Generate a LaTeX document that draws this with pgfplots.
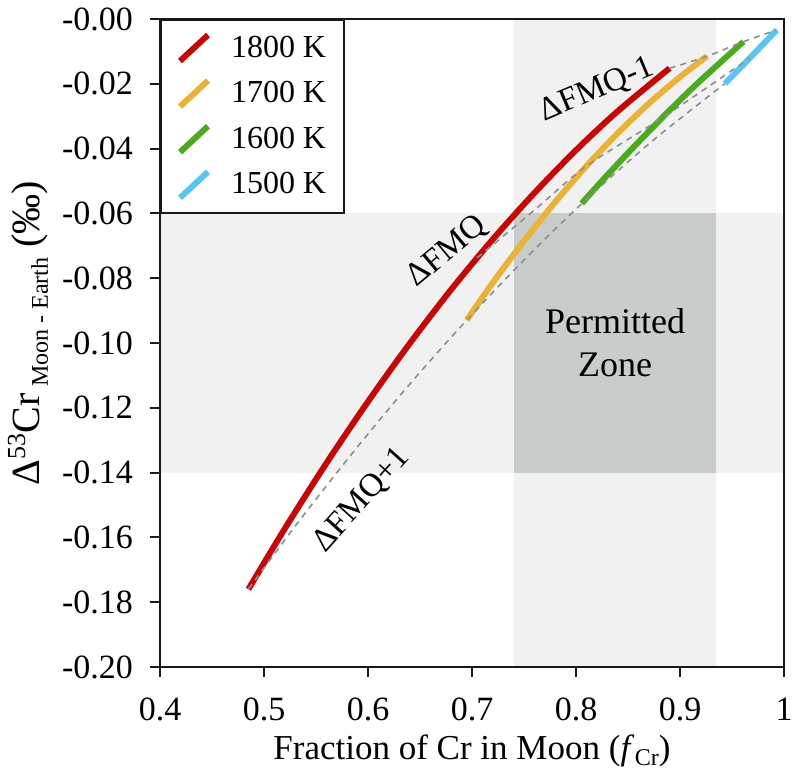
\documentclass[border=0pt]{standalone}
\usepackage{fontspec}
\setmainfont{Liberation Serif}
\usepackage{pgfplots}
\pgfplotsset{compat=1.18}
\definecolor{cred}{HTML}{C40808}
\definecolor{cyellow}{HTML}{EAB23A}
\definecolor{cgreen}{HTML}{4BAA1E}
\definecolor{cblue}{HTML}{5BC4F0}
\definecolor{cdash}{HTML}{8A8F8F}
\definecolor{bandlight}{HTML}{F0F1F0}
\definecolor{banddark}{HTML}{C8CDCC}
\begin{document}
\begin{tikzpicture}
\begin{axis}[
  scale only axis, width=312pt, height=324pt,
  xmin=0.4, xmax=1, ymin=-0.2, ymax=0,
  axis on top,
  xtick={0.4,0.5,0.6,0.7,0.8,0.9,1},
  xticklabels={0.4,0.5,0.6,0.7,0.8,0.9,1},
  ytick={-0.2,-0.18,-0.16,-0.14,-0.12,-0.1,-0.08,-0.06,-0.04,-0.02,0},
  yticklabels={-0.20,-0.18,-0.16,-0.14,-0.12,-0.10,-0.08,-0.06,-0.04,-0.02,-0.00},
  tick align=outside, tick pos=left, major tick length=5pt,
  axis line style={line width=1pt, black!90},
  tick style={line width=1pt, black!90},
  ticklabel style={font=\fontsize{17}{20}\selectfont},
  yticklabel style={xshift=-5pt},
  xticklabel style={yshift=-7pt},
  xlabel={Fraction of Cr in Moon (\textit{f}\kern0.3pt\raisebox{-0.35ex}{\fontsize{12}{14}\selectfont Cr})},
  ylabel={\fontsize{20}{22}\selectfont Δ\raisebox{0.8ex}{\fontsize{13}{15}\selectfont 53}Cr\,\raisebox{-0.45ex}{\fontsize{12}{14}\selectfont Moon - Earth} (‰)},
  label style={font=\fontsize{17.5}{20}\selectfont},
  xlabel style={at={(axis description cs:0.5,0)}, anchor=center, yshift=-42pt},
  ylabel style={at={(axis description cs:0,0.5)}, anchor=center, yshift=66pt, xshift=5pt},
  legend style={at={(0,1)}, anchor=north west, draw=black!90, line width=1pt, fill=white,
    font=\fontsize{16}{19}\selectfont, inner xsep=8pt, inner ysep=6pt, row sep=6.8pt,
    column sep=9pt, nodes={inner sep=1pt}},
  legend cell align=left,
  legend image code/.code={\draw[#1, line width=3pt] (0pt,-6.5pt) -- (14pt,6.5pt);},
]
\fill[bandlight] (axis cs:0.74,-0.2) rectangle (axis cs:0.935,0);
\fill[bandlight] (axis cs:0.4,-0.14) rectangle (axis cs:1,-0.06);
\fill[banddark] (axis cs:0.74,-0.14) rectangle (axis cs:0.935,-0.06);

\addplot[cred, line width=3pt, smooth] coordinates {
(0.485,-0.1760) (0.52,-0.1573) (0.56,-0.1371) (0.60,-0.1181) (0.64,-0.1002)
(0.68,-0.0835) (0.72,-0.0680) (0.76,-0.0537) (0.80,-0.0405) (0.84,-0.0285) (0.890,-0.0152)};
\addlegendentry{1800 K}
\addplot[cyellow, line width=3pt, smooth] coordinates {
(0.695,-0.0929) (0.72,-0.0814) (0.75,-0.0685) (0.78,-0.0565) (0.81,-0.0454)
(0.84,-0.0353) (0.87,-0.0261) (0.90,-0.0179) (0.926,-0.0115)};
\addlegendentry{1700 K}
\addplot[cgreen, line width=3pt, smooth] coordinates {
(0.8055,-0.0569) (0.83,-0.0482) (0.86,-0.0380) (0.89,-0.0282) (0.92,-0.0189) (0.961,-0.0070)};
\addlegendentry{1600 K}
\addplot[cblue, line width=3pt, smooth] coordinates {
(0.9433,-0.0199) (0.967,-0.0121) (0.993,-0.0034)};
\addlegendentry{1500 K}

% iso-fO2 dashed curves
\addplot[cdash, line width=0.8pt, dash pattern=on 3pt off 2.6pt, smooth, forget plot] coordinates {
(0.485,-0.1760) (0.53,-0.1565) (0.58,-0.1360) (0.63,-0.1165) (0.68,-0.0982) (0.73,-0.0810)
(0.78,-0.0648) (0.83,-0.0498) (0.88,-0.0359) (0.9433,-0.0199)};
\addplot[cdash, line width=0.8pt, dash pattern=on 3pt off 2.6pt, smooth, forget plot] coordinates {
(0.705,-0.0737) (0.76,-0.0590) (0.81,-0.0454) (0.883,-0.0305) (0.967,-0.0121)};
\addplot[cdash, line width=0.8pt, dash pattern=on 3pt off 2.6pt, smooth, forget plot] coordinates {
(0.890,-0.0152) (0.926,-0.0115) (0.961,-0.0070) (0.993,-0.0034)};

\node[rotate=40, font=\fontsize{16.5}{19}\selectfont] at (axis cs:0.676,-0.0718) {ΔFMQ};
\node[rotate=48, font=\fontsize{16.5}{19}\selectfont] at (axis cs:0.594,-0.1485) {ΔFMQ+1};
\node[rotate=23, font=\fontsize{16.5}{19}\selectfont] at (axis cs:0.820,-0.0219) {ΔFMQ-1};
\node[align=center, font=\fontsize{18}{21.5}\selectfont] at (axis cs:0.8375,-0.1) {Permitted\\Zone};
\end{axis}
\pgfresetboundingbox
\path ([xshift=-80pt,yshift=-56.5pt]current axis.south west) rectangle ([xshift=4.5pt,yshift=9.5pt]current axis.north east);
\end{tikzpicture}
\end{document}
